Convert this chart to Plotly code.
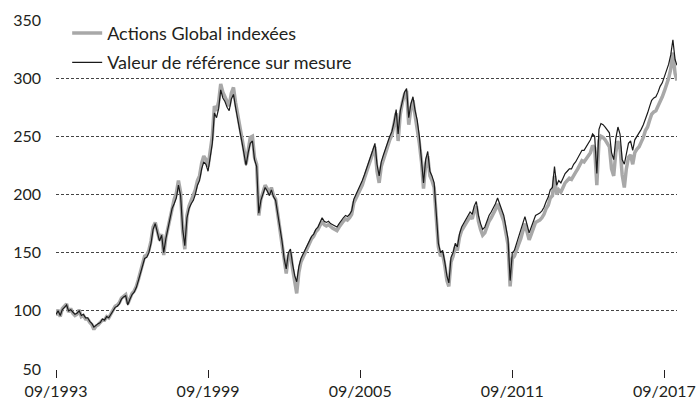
import pandas as pd
import plotly.graph_objects as go

start_month = "1993-09-01"
series_names = ["Actions Global indexées", "Valeur de référence sur mesure"]
tick_dates = ["1993-09-01", "1999-09-01", "2005-09-01", "2011-09-01", "2017-09-01"]
tick_labels = ["09/1993", "09/1999", "09/2005", "09/2011", "09/2017"]
y_ticks = [50, 100, 150, 200, 250, 300, 350]

# Valeur de référence sur mesure (black), monthly from 09/1993
b1993 = [97, 100, 96, 101]
b1994 = [103, 105, 100, 101, 99, 97, 98, 100, 96, 97, 94, 94]
b1995 = [91, 89, 86, 88, 89, 90, 93, 92, 95, 94, 97, 99]
b1996 = [103, 104, 106, 110, 112, 113, 105, 110, 114, 116, 120, 126]
b1997 = [132, 140, 145, 146, 150, 158, 170, 175, 166, 160, 165, 150]
b1998 = [162, 170, 178, 188, 192, 197, 208, 199, 170, 156, 180, 188]
b1999 = [192, 195, 200, 208, 212, 222, 228, 226, 220, 232, 244, 270]
b2000 = [266, 274, 290, 283, 280, 275, 272, 282, 286, 275, 266, 255]
b2001 = [245, 235, 225, 236, 244, 246, 230, 224, 184, 195, 200, 206]
b2002 = [203, 199, 204, 198, 195, 184, 172, 160, 145, 136, 150, 153]
b2003 = [140, 130, 125, 138, 145, 149, 152, 156, 160, 164, 166, 170]
b2004 = [172, 176, 180, 177, 176, 177, 175, 174, 173, 172, 175, 178]
b2005 = [180, 182, 181, 183, 186, 196, 200, 203, 208, 212, 217, 222]
b2006 = [228, 232, 238, 244, 226, 216, 228, 234, 240, 246, 250, 254]
b2007 = [262, 273, 252, 272, 281, 288, 291, 266, 278, 284, 272, 264]
b2008 = [250, 232, 210, 230, 237, 220, 216, 210, 185, 158, 150, 152]
b2009 = [142, 130, 124, 146, 150, 158, 155, 166, 172, 175, 178, 181]
b2010 = [185, 183, 190, 194, 182, 175, 170, 172, 178, 182, 185, 188]
b2011 = [192, 197, 192, 188, 182, 172, 162, 126, 150, 152, 158, 162]
b2012 = [168, 174, 181, 174, 167, 172, 178, 182, 183, 184, 186, 189]
b2013 = [194, 198, 204, 206, 224, 208, 212, 210, 214, 218, 220, 222]
b2014 = [222, 226, 228, 231, 234, 238, 238, 241, 244, 247, 252, 250]
b2015 = [218, 256, 261, 260, 258, 255, 253, 236, 230, 248, 258, 252]
b2016 = [230, 226, 236, 244, 246, 238, 247, 250, 252, 256, 260, 266]
b2017 = [270, 276, 281, 283, 284, 288, 293, 296, 301, 307, 312, 320]
b2018 = [333, 316, 311]

# Actions Global indexées (grey), monthly from 09/1993
g1993 = [96, 101, 95, 102]
g1994 = [104, 106, 99, 102, 98, 96, 97, 101, 95, 96, 93, 93]
g1995 = [90, 88, 84, 87, 88, 90, 92, 92, 95, 94, 97, 100]
g1996 = [104, 105, 107, 111, 113, 114, 106, 111, 115, 117, 121, 127]
g1997 = [134, 142, 147, 148, 152, 160, 172, 176, 167, 161, 166, 148]
g1998 = [163, 172, 181, 191, 196, 201, 212, 202, 168, 153, 182, 190]
g1999 = [195, 198, 204, 212, 216, 227, 233, 230, 224, 237, 250, 276]
g2000 = [272, 280, 295, 288, 284, 279, 276, 287, 292, 279, 269, 257]
g2001 = [248, 238, 226, 240, 249, 250, 232, 226, 182, 196, 202, 208]
g2002 = [205, 200, 206, 199, 196, 183, 168, 155, 140, 132, 147, 150]
g2003 = [136, 124, 115, 133, 142, 146, 150, 154, 158, 162, 164, 168]
g2004 = [170, 173, 177, 174, 173, 174, 172, 171, 170, 169, 172, 175]
g2005 = [177, 179, 178, 180, 183, 193, 197, 200, 205, 208, 214, 219]
g2006 = [225, 229, 235, 241, 220, 210, 224, 230, 236, 243, 247, 251]
g2007 = [259, 270, 246, 269, 279, 286, 289, 260, 274, 281, 268, 258]
g2008 = [244, 228, 205, 226, 233, 216, 212, 206, 180, 155, 147, 149]
g2009 = [139, 126, 121, 142, 147, 155, 152, 163, 169, 172, 175, 178]
g2010 = [181, 179, 186, 190, 177, 170, 165, 167, 173, 177, 180, 183]
g2011 = [187, 192, 187, 183, 177, 167, 157, 121, 145, 147, 153, 157]
g2012 = [162, 168, 175, 168, 161, 166, 172, 176, 177, 178, 180, 183]
g2013 = [188, 191, 197, 199, 216, 200, 204, 202, 206, 210, 212, 214]
g2014 = [213, 217, 219, 222, 225, 229, 228, 231, 234, 236, 242, 240]
g2015 = [208, 246, 250, 249, 247, 244, 241, 222, 216, 236, 246, 240]
g2016 = [217, 206, 222, 232, 234, 226, 236, 239, 241, 245, 249, 255]
g2017 = [258, 264, 269, 271, 272, 276, 281, 284, 289, 294, 300, 308]
g2018 = [322, 304, 298]

black = (b1993 + b1994 + b1995 + b1996 + b1997 + b1998 + b1999 + b2000 + b2001
         + b2002 + b2003 + b2004 + b2005 + b2006 + b2007 + b2008 + b2009 + b2010
         + b2011 + b2012 + b2013 + b2014 + b2015 + b2016 + b2017 + b2018)
grey = (g1993 + g1994 + g1995 + g1996 + g1997 + g1998 + g1999 + g2000 + g2001
        + g2002 + g2003 + g2004 + g2005 + g2006 + g2007 + g2008 + g2009 + g2010
        + g2011 + g2012 + g2013 + g2014 + g2015 + g2016 + g2017 + g2018)

dates = pd.date_range(start_month, periods=len(black), freq="MS")

FONT = "Lato, 'Open Sans', sans-serif"
fig = go.Figure()
fig.add_trace(go.Scatter(x=dates, y=grey, mode="lines", name=series_names[0],
                         legendgroup="g", line=dict(color="#a8a8a8", width=3.5)))
fig.add_trace(go.Scatter(x=dates, y=black, mode="lines", name=series_names[1],
                         legendgroup="b", line=dict(color="#1a1a1a", width=1.2)))

fig.update_layout(
    width=699, height=400,
    margin=dict(l=56, r=22, t=20, b=31, autoexpand=False),
    paper_bgcolor="white", plot_bgcolor="white",
    font=dict(family=FONT, size=16, color="#231f20"),
    showlegend=True,
    legend=dict(x=0.018, y=1.015, xanchor="left", yanchor="top",
                bgcolor="rgba(0,0,0,0)", font=dict(size=18),
                traceorder="grouped", tracegroupgap=3),
)
fig.update_xaxes(
    type="date", range=[dates[0], dates[-1]], automargin=False,
    tickvals=pd.to_datetime(tick_dates), ticktext=tick_labels,
    showgrid=False, zeroline=False, showline=False,
    ticks="outside", ticklen=8, tickwidth=1, tickcolor="#231f20",
)
fig.update_yaxes(
    range=[50, 350], tickvals=y_ticks, automargin=False,
    showgrid=True, gridcolor="#444444", gridwidth=1, griddash="3px,2px",
    zeroline=False, showline=False, ticks="", ticklabelstandoff=14,
)
fig.write_html("out.html", config={"displayModeBar": False},
               post_script="document.body.style.margin='0';document.body.style.overflow='hidden';")
